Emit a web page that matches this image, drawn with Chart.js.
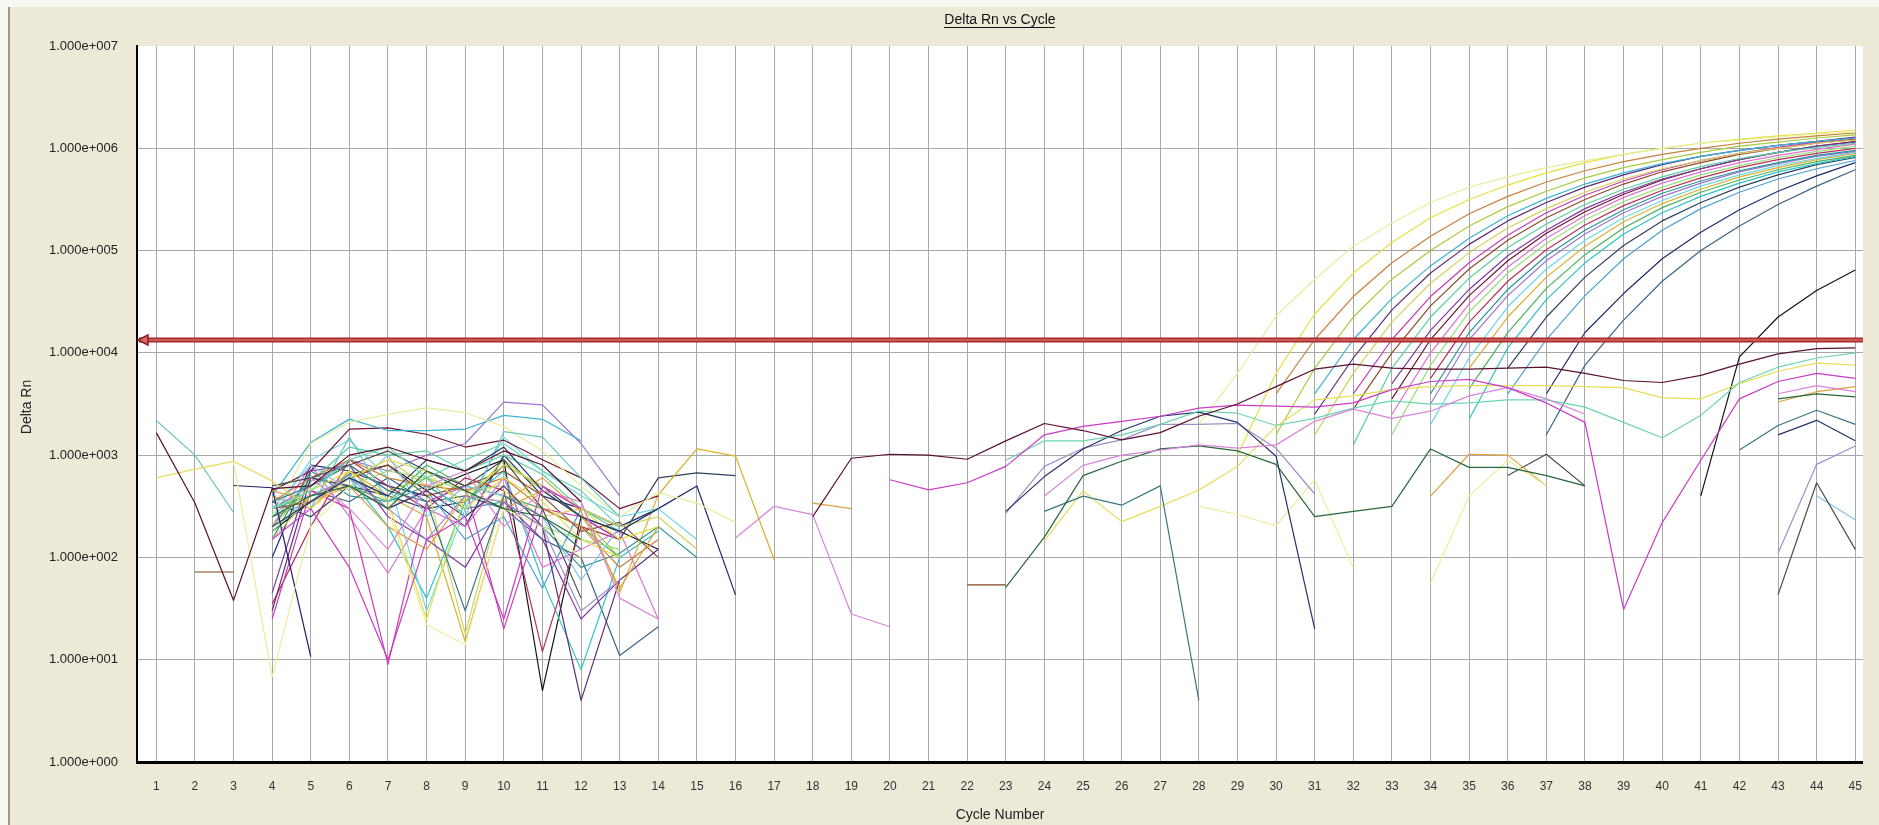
<!DOCTYPE html>
<html>
<head>
<meta charset="utf-8">
<title>Delta Rn vs Cycle</title>
<script src="https://cdn.jsdelivr.net/npm/chart.js@4.4.1/dist/chart.umd.min.js"></script>
<style>
  html, body { margin: 0; padding: 0; background: #ECE9D8; overflow: hidden; }
  #wrap { width: 1879px; height: 825px; position: relative; }
  canvas { display: block; }
</style>
</head>
<body>
<div id="wrap"><canvas id="amp" width="1879" height="825"></canvas></div>
<script>
// ---- cycle axis and Delta Rn decades ----
const cycles = [1,2,3,4,5,6,7,8,9,10,11,12,13,14,15,16,17,18,19,20,21,22,23,24,25,26,27,28,29,30,31,32,33,34,35,36,37,38,39,40,41,42,43,44,45];
const decades = [1, 10, 100, 1000, 10000, 100000, 1000000, 10000000];
const threshold = 13400;

// ---- wells: each run is [first cycle, Delta Rn values]; cycles outside the runs are not positive ----
const wellA1 = [[4, [250,1300,2100,2500,2900,2600,1900,1100,500,250,430,340,220]], [28, [2000,6310,22900,52500,110000,186000,295000,417000,525000,646000,759000,871000,1000000,1120000,1200000,1290000,1380000,1450000]]];
const wellA2 = [[4, [300,450,700,350,25,400,800,500,300,150,200]], [29, [1000,6310,24000,60300,120000,209000,316000,437000,575000,724000,871000,1000000,1120000,1230000,1320000,1410000,1510000]]];
const wellA3 = [[4, [350,600,900,600,500,450,600,300,200,80,150]], [30, [3980,13500,35500,75900,138000,229000,339000,468000,603000,741000,871000,1000000,1120000,1230000,1320000,1410000]]];
const wellA4 = [[4, [200,500,800,450,600,350,900,450,250,100]], [30, [1580,7080,22400,52500,100000,174000,269000,380000,513000,646000,776000,912000,1050000,1150000,1260000,1350000]]];
const wellA5 = [[4, [400,1330,2250,1740,1740,1800,2450,2240,1380]], [31, [3980,13500,33900,70800,132000,219000,324000,447000,575000,708000,832000,955000,1070000,1170000,1260000]]];
const wellA6 = [[4, [30,600,500,300,450,250,500,200,4,60,120]], [31, [2510,8910,26300,60300,115000,195000,295000,417000,550000,692000,832000,955000,1070000,1170000,1290000]]];
const wellA7 = [[4, [150,400,600,900,500,18,450,250,300,200,250,120]], [31, [1580,6310,20000,47900,95500,166000,257000,372000,501000,631000,759000,891000,1000000,1120000,1200000]]];
const wellA8 = [[4, [25,450,300,9,350,500,20,300,250,150]], [32, [3980,13500,35500,75900,141000,234000,347000,479000,617000,759000,891000,1020000,1150000,1260000]]];
const wellA9 = [[4, [300,350,600,800,400,500,700,400,180,220,100]], [32, [2820,10000,28800,66100,126000,209000,316000,447000,589000,724000,871000,1000000,1120000,1230000]]];
const wellA10 = [[4, [250,550,1200,1000,1100,700,1000,650,300,180]], [32, [1260,7080,22400,53700,107000,182000,282000,398000,525000,661000,794000,912000,1020000,1120000]]];
const wellA11 = [[4, [45,700,800,250,150,80,350,150,25,60]], [33, [5010,16600,41700,89100,158000,257000,372000,501000,631000,776000,912000,1050000,1150000]]];
const wellA12 = [[4, [450,700,1800,1850,1600,1200,1400,900,600,300,400]], [33, [3550,13500,36300,79400,148000,240000,355000,490000,631000,776000,912000,1050000,1170000]]];
const wellB1 = [[4, [200,800,250,70,300,200,600,80,120,180,25]], [33, [2510,10000,30200,69200,132000,219000,331000,457000,589000,724000,851000,977000,1100000]]];
const wellB2 = [[4, [180,400,500,700,600,450,500,200,150,120]], [33, [1580,7590,25100,60300,117000,200000,302000,417000,550000,676000,813000,933000,1050000]]];
const wellB3 = [[4, [35,200,900,500,300,600,450,12,200,150]], [34, [5620,20000,50100,102000,178000,275000,389000,513000,646000,776000,891000,1000000]]];
const wellB4 = [[4, [150,700,400,350,500,300,350,200,80,110,200,100]], [34, [3980,15800,41700,89100,158000,251000,363000,479000,603000,724000,851000,955000]]];
const wellB5 = [[4, [300,500,900,700,1000,1300,3300,3100,1300,400]], [34, [3160,13500,36300,79400,145000,234000,339000,457000,589000,708000,832000,933000]]];
const wellB6 = [[4, [250,900,1400,600,30,300,1500,700,400,250,300,150]], [34, [2000,8910,28200,66100,126000,209000,309000,427000,550000,676000,794000,912000]]];
const wellB7 = [[4, [400,300,700,400,250,15,300,450,350,45,410,1150,980,95]], [35, [7080,22400,55000,110000,191000,288000,398000,525000,646000,776000,891000]]];
const wellB8 = [[4, [200,600,500,350,800,500,400,300,200,100]], [35, [4470,15800,42700,91200,166000,263000,372000,490000,617000,741000,851000]]];
const wellB9 = [[4, [300,400,600,200,40,350,700,60,8,100,180]], [35, [2240,11200,33100,75900,145000,234000,339000,457000,589000,708000,832000]]];
const wellB10 = [[4, [350,250,500,400,300,350,800,500,250,150,600,670,630]], [36, [7080,22400,55000,112000,195000,295000,417000,550000,692000,813000]]];
const wellB11 = [[4, [250,350,650,300,450,150,250,50,300,200]], [36, [3980,13500,36300,83200,158000,257000,372000,501000,631000,759000]]];
const wellB12 = [[4, [100,800,700,500,400,200,1000,400,300,200,300,500,43]], [37, [3980,15800,38000,83200,151000,251000,380000,537000,724000]]];
const wellC1 = [[4, [300,450,350,600,350,400,300,150,100,11,21]], [37, [1580,7590,20900,50100,100000,174000,282000,427000,617000]]];
const wellC2 = [[4, [180,350,650,800,450,650,900,5,250,180,120]], [41, [400,9120,22400,40700,64600]]];
// wells without amplification
const wellC3 = [[1, [1660,340,38,470,500,1000,1200,900,700,1100,800,350]], [18, [251,933,1020,1000,912,1380,2040,1740,1410,1660,2400,3160,4680,6920,7760,7080,6920,6920,7080,7240,6310,5370,5130,6030,7760,9770,11000,11200]]];
const wellC4 = [[4, [150,300,80,10,150,250,25,500,300]], [20, [575,457,537,776,1580,1910,2140,2400,2880,3090,3020,2950,3240,4370,5250,5500,4570,3240,2090,31,219,891,3550,5250,6310,5620]]];
const wellC5 = [[5, [600,300,120,500,700,200,450,350,40,25]], [16, [155,316,262,28,21]], [24, [398,794,1000,1120,1260,1170,1260,2140,2820,2290,2690,3800,4570,3550,2510]], [43, [3980,4790,4170]]];
const wellC6 = [[4, [300,450,900,1200,600,900,1300,700,450,200]], [23, [891,1380,1380,1580,2000,2690,2570,1950,2290,2880,3390,3160,3240,3470,3470,2950,2090,1480,2450,5130,7240,8910,10000]]];
const wellC7 = [[4, [250,400,500,300,700,450,300,250,150]], [23, [51,158,631,871,1150,1230,1100,813,251,282,316,1150,759,759,631,501]], [43, [3550,3980,3720]]];
const wellC8 = [[2, [72,72]], [22, [54,54]]];
const wellC9 = [[4, [200,350,600,400,900,700,1200,450,250,180,300]], [23, [282,617,1150,1740,2400,2630,2090,977,20]], [43, [1580,2190,1380]]];
const wellC10 = [[4, [350,500,800,450,350,30,400,250,120]], [24, [282,398,324,501,4]], [42, [1120,1950,2750,2000]]];
const wellC11 = [[5, [400,600,300,150,400,350,200,30,60]], [23, [269,776,1170,1410,2000,2000,2040,1170,417]], [43, [110,813,1230]]];
const wellC12 = [[1, [600,730,870,560,300,600,900,700,300,600,350,150,100]], [24, [145,447,224,316,457,776,1910,3470,3800,4370,4680,4790,4790,4790,4680,4570,3630,3550,5010,6610,7940,7590]]];
const wellD1 = [[3, [850,6.8,200,500,300,22,14,300,200,100]], [28, [316,263,204,575,79]], [34, [56,398,891,500]]];
const wellD2 = [[1, [2180,1000,275]], [5, [300,1500,350,600,250,1700,1500,600,250]]];
const wellD3 = [[4, [450,350,500,200,120,400,350,600,280,50,200]], [18, [340,300]], [34, [398,1020,1000,501]], [43, [3310,4170,4680]]];
const wellD4 = [[4, [500,600,800,1100,700,500,900,300,40]], [36, [631,1020,501]], [43, [43,537,120]]];
const wellD5 = [[4, [300,800,450,1000,250,500,400,250,60,200]], [44, [400,234]]];
const wellD6 = [[3, [505,480,10.7]]];

// ---- well colours ----
const wells = [
  [wellC3, '#5a1030'], [wellC4, '#c83cc8'], [wellC5, '#d884dc'], [wellC6, '#6cd4b0'],
  [wellC7, '#28683a'], [wellC8, '#80461c'], [wellC9, '#24346a'], [wellC10, '#3c7484'],
  [wellC11, '#a090c8'], [wellC12, '#e8dc58'], [wellD1, '#eeee9a'], [wellD2, '#68c8c0'],
  [wellD3, '#e0a040'], [wellD4, '#4a4a4a'], [wellD5, '#84c4e4'], [wellD6, '#202068'],
  [wellA1, '#e6ee9c'], [wellA2, '#e8e040'], [wellA3, '#c8803c'], [wellA4, '#a8cc3c'],
  [wellA5, '#3cb4d4'], [wellA6, '#5c2c74'], [wellA7, '#d4d05c'], [wellA8, '#c83cb4'],
  [wellA9, '#8c4c2c'], [wellA10, '#5cd0a0'], [wellA11, '#7c3ca4'], [wellA12, '#701434'],
  [wellB1, '#e070d4'], [wellB2, '#98e078'], [wellB3, '#b4305c'], [wellB4, '#2c9494'],
  [wellB5, '#9c74d4'], [wellB6, '#6cd8e4'], [wellB7, '#dcb030'], [wellB8, '#4cb05c'],
  [wellB9, '#2cc4c4'], [wellB10, '#30405c'], [wellB11, '#4ca0d4'], [wellB12, '#1c2c6c'],
  [wellC1, '#3c6484'], [wellC2, '#141414']
];

function toPoints(runs) {
  const y = cycles.map(() => null);
  runs.forEach(([first, vals]) => vals.forEach((v, i) => { y[first - 1 + i] = v; }));
  return cycles.map((c, i) => ({ x: c, y: y[i] }));
}

function sci(v) {
  const e = Math.round(Math.log10(v));
  return '1.000e' + (e < 0 ? '-' : '+') + String(Math.abs(e)).padStart(3, '0');
}

const FONT = '"Liberation Sans", Arial, sans-serif';

const frame = {
  id: 'frame',
  beforeDraw(chart) {
    const { ctx, chartArea: a, width, height } = chart;
    ctx.save();
    ctx.fillStyle = '#ECE9D8';
    ctx.fillRect(0, 0, width, height);
    ctx.fillStyle = '#f8f7f2';
    ctx.fillRect(0, 0, width, 7);
    ctx.fillRect(0, 0, 8, height);
    ctx.fillStyle = '#9a988e';
    ctx.fillRect(8, 7, 2, height - 7);
    ctx.fillStyle = '#ffffff';
    ctx.fillRect(a.left, a.top, a.right - a.left, a.bottom - a.top);
    ctx.restore();
  },
  afterDatasetsDraw(chart) {
    const { ctx, chartArea: a, scales } = chart;
    const y = Math.round(scales.y.getPixelForValue(threshold));
    ctx.save();
    ctx.strokeStyle = '#a82c2c';
    ctx.lineWidth = 5;
    ctx.beginPath(); ctx.moveTo(a.left + 2, y); ctx.lineTo(a.right, y); ctx.stroke();
    ctx.strokeStyle = '#d86a6a';
    ctx.lineWidth = 1.5;
    ctx.beginPath(); ctx.moveTo(a.left + 6, y); ctx.lineTo(a.right, y); ctx.stroke();
    // arrow handle at the left end
    ctx.fillStyle = '#d86a6a';
    ctx.strokeStyle = '#8c1e1e';
    ctx.lineWidth = 1.5;
    ctx.beginPath();
    ctx.moveTo(a.left + 1, y);
    ctx.lineTo(a.left + 11, y - 5);
    ctx.lineTo(a.left + 11, y + 5);
    ctx.closePath();
    ctx.fill(); ctx.stroke();
    ctx.restore();
  },
  afterDraw(chart) {
    const { ctx, chartArea: a } = chart;
    const cx = (a.left + a.right) / 2;
    ctx.save();
    ctx.fillStyle = '#111';
    ctx.textAlign = 'center';
    ctx.textBaseline = 'middle';
    ctx.font = '14px ' + FONT;
    const title = 'Delta Rn vs Cycle';
    ctx.fillText(title, cx, 20);
    const w = ctx.measureText(title).width;
    ctx.fillRect(Math.round(cx - w / 2), 27, Math.round(w), 1);
    ctx.fillStyle = '#222';
    ctx.font = '14px ' + FONT;
    ctx.fillText('Cycle Number', cx, 815);
    ctx.translate(27, (a.top + a.bottom) / 2 + 3);
    ctx.rotate(-Math.PI / 2);
    ctx.fillText('Delta Rn', 0, 0);
    ctx.restore();
  }
};

Chart.defaults.font.family = FONT;

new Chart(document.getElementById('amp'), {
  type: 'line',
  data: {
    datasets: wells.map(([runs, color]) => ({
      data: toPoints(runs),
      borderColor: color,
      borderWidth: 1.2,
      pointRadius: 0,
      tension: 0,
      spanGaps: false,
      borderJoinStyle: 'round',
      fill: false
    }))
  },
  options: {
    responsive: false,
    animation: false,
    events: [],
    devicePixelRatio: 1,
    layout: { padding: { left: 0, top: 46, right: 12, bottom: 0 } },
    plugins: { legend: { display: false }, tooltip: { enabled: false }, title: { display: false } },
    scales: {
      x: {
        type: 'linear',
        min: 0.5,
        max: 45.2,
        afterBuildTicks: s => { s.ticks = cycles.map(v => ({ value: v })); },
        afterFit: s => { s.height = 63; },
        grid: { color: '#a8a8a8', lineWidth: 1, drawTicks: false },
        border: { color: '#000', width: 3 },
        ticks: { autoSkip: false, maxRotation: 0, padding: 17, color: '#333', font: { size: 12 }, callback: v => String(v) }
      },
      y: {
        type: 'logarithmic',
        min: 1,
        max: 10000000,
        afterBuildTicks: s => { s.ticks = decades.map(v => ({ value: v })); },
        afterFit: s => { s.width = 137; },
        grid: {
          color: ctx => (ctx.tick && ctx.tick.value === 10000000) ? 'rgba(0,0,0,0)' : '#a8a8a8',
          lineWidth: 1,
          drawTicks: false
        },
        border: { color: '#000', width: 2 },
        ticks: { padding: 19, color: '#222', font: { size: 13 }, callback: v => sci(v) }
      }
    }
  },
  plugins: [frame]
});
</script>
</body>
</html>
